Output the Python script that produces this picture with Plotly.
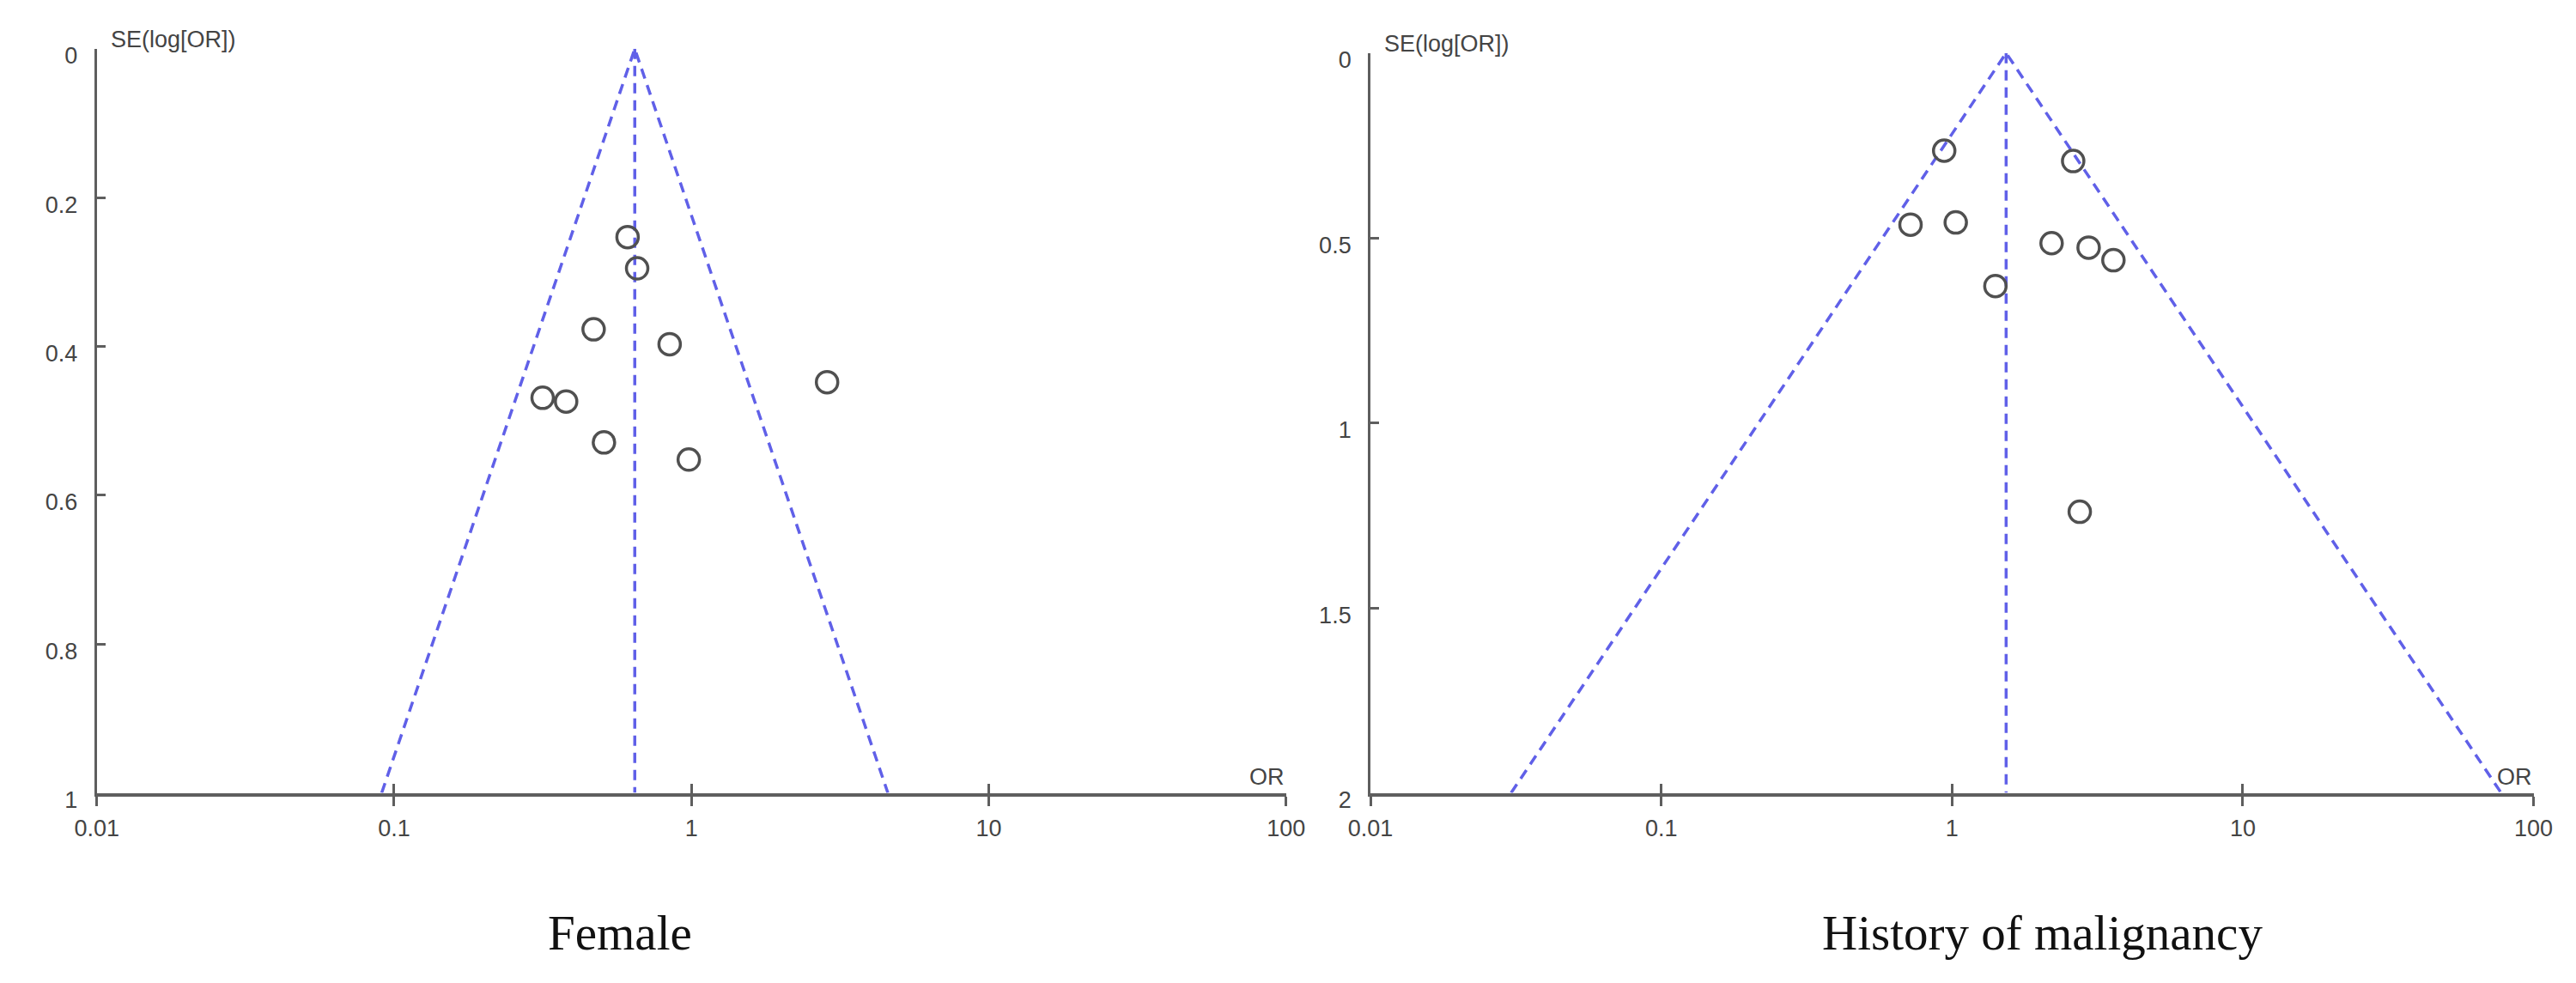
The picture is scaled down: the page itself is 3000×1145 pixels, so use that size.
import numpy as np
import plotly.graph_objects as go

# Female: odds ratio and SE(log[OR]) of each study
female_or = [0.61, 0.657, 0.469, 0.845, 2.86, 0.316, 0.379, 0.508, 0.98]
female_se = [0.253, 0.295, 0.377, 0.397, 0.448, 0.469, 0.474, 0.529, 0.552]
female_pooled_or = 0.645
female_se_max = 1.0
female_se_ticks = [0, 0.2, 0.4, 0.6, 0.8, 1]
female_se_labels = ["0", "0.2", "0.4", "0.6", "0.8", "1"]

# History of malignancy
malig_or = [0.94, 2.61, 0.72, 1.03, 2.2, 2.95, 3.59, 1.41, 2.75]
malig_se = [0.264, 0.292, 0.464, 0.458, 0.514, 0.526, 0.56, 0.63, 1.24]
malig_pooled_or = 1.535
malig_se_max = 2.0
malig_se_ticks = [0, 0.5, 1, 1.5, 2]
malig_se_labels = ["0", "0.5", "1", "1.5", "2"]

or_ticks = [0.01, 0.1, 1, 10, 100]
or_labels = ["0.01", "0.1", "1", "10", "100"]

AXIS_COLOR = "#5e5e5e"
FUNNEL_COLOR = "#6060e8"
TICK_FONT = dict(family="Liberation Sans, Arial", size=27, color="#444444")


def funnel_traces(pooled, se_max, xa, ya):
    """95% pseudo-confidence funnel plus the pooled estimate line."""
    z = 1.96
    se = np.array([se_max, 0.0, se_max])
    x_tri = pooled * np.exp(np.array([-z, 0.0, z]) * se)
    line = dict(color=FUNNEL_COLOR, width=3.5, dash="12px,8px")
    tri = go.Scatter(x=x_tri, y=se, mode="lines", line=line,
                     xaxis=xa, yaxis=ya, hoverinfo="skip")
    mid = go.Scatter(x=[pooled, pooled], y=[0, se_max], mode="lines", line=line,
                     xaxis=xa, yaxis=ya, hoverinfo="skip")
    return [tri, mid]


def study_points(or_vals, se_vals, xa, ya):
    return go.Scatter(x=or_vals, y=se_vals, mode="markers", xaxis=xa, yaxis=ya,
                      marker=dict(symbol="circle-open", size=25,
                                  line=dict(width=3.5, color="#505050"),
                                  color="#505050"))


def x_axis(domain, anchor, overlay=None):
    ax = dict(type="log", range=[-2, 2], domain=domain, anchor=anchor,
              tickvals=or_ticks, ticktext=or_labels, ticklen=11, tickwidth=3,
              tickcolor=AXIS_COLOR, showgrid=False, zeroline=False)
    if overlay is None:
        ax.update(ticks="outside", showline=True, linecolor=AXIS_COLOR, linewidth=4,
                  tickfont=TICK_FONT, ticklabelstandoff=3)
    else:
        # same axis again, only to draw the upper half of the crossing ticks
        ax.update(ticks="inside", overlaying=overlay, showline=False,
                  showticklabels=False)
    return ax


def y_axis(domain, anchor, se_max, ticks, labels):
    return dict(range=[se_max, 0], domain=domain, anchor=anchor,
                tickvals=ticks, ticktext=labels, ticks="inside", ticklen=10,
                tickwidth=3, tickcolor=AXIS_COLOR, showline=True,
                linecolor=AXIS_COLOR, linewidth=3, showgrid=False, zeroline=False,
                tickfont=TICK_FONT, ticklabelstandoff=14, ticklabelshift=-8)


def main():
    fig = go.Figure()

    for t in funnel_traces(female_pooled_or, female_se_max, "x", "y"):
        fig.add_trace(t)
    fig.add_trace(study_points(female_or, female_se, "x", "y"))
    for t in funnel_traces(malig_pooled_or, malig_se_max, "x2", "y2"):
        fig.add_trace(t)
    fig.add_trace(study_points(malig_or, malig_se, "x2", "y2"))
    # invisible traces so the overlay axes get drawn
    fig.add_trace(go.Scatter(x=[female_pooled_or], y=[0], xaxis="x3", yaxis="y",
                             mode="markers", opacity=0, hoverinfo="skip"))
    fig.add_trace(go.Scatter(x=[malig_pooled_or], y=[0], xaxis="x4", yaxis="y2",
                             mode="markers", opacity=0, hoverinfo="skip"))

    left_x = [80 / 3000, 1488 / 3000]
    right_x = [1588 / 3000, 2965 / 3000]
    bottom = 1 - 933 / 1145
    left_y = [bottom, 1 - 43 / 1145]
    right_y = [bottom, 1 - 48 / 1145]

    label_font = dict(family="Liberation Sans, Arial", size=27, color="#444444")
    ann = []
    for xr, yr in [("x", "y"), ("x2", "y2")]:
        ann.append(dict(text="SE(log[OR])", xref=xr + " domain", yref=yr + " domain",
                        x=0, y=1, xanchor="left", yanchor="middle", xshift=14,
                        yshift=11, showarrow=False, font=label_font))
        ann.append(dict(text="OR", xref=xr + " domain", yref=yr + " domain",
                        x=1, y=0, xanchor="right", yanchor="middle", yshift=19,
                        showarrow=False, font=label_font))
    title_font = dict(family="Liberation Serif, Times New Roman", size=57,
                      color="#111111")
    ann.append(dict(text="Female", xref="paper", yref="paper", x=699 / 3000,
                    y=1 - 1100 / 1145, xanchor="center", yanchor="middle",
                    showarrow=False, font=title_font))
    ann.append(dict(text="History of malignancy", xref="paper", yref="paper",
                    x=2383 / 3000, y=1 - 1100 / 1145, xanchor="center",
                    yanchor="middle", showarrow=False, font=title_font))

    fig.update_layout(
        width=3000, height=1145,
        margin=dict(l=0, r=0, t=0, b=0),
        paper_bgcolor="white", plot_bgcolor="white",
        showlegend=False,
        xaxis=x_axis(left_x, "y"),
        xaxis2=x_axis(right_x, "y2"),
        xaxis3=x_axis(left_x, "y", overlay="x"),
        xaxis4=x_axis(right_x, "y2", overlay="x2"),
        yaxis=y_axis(left_y, "x", female_se_max, female_se_ticks, female_se_labels),
        yaxis2=y_axis(right_y, "x2", malig_se_max, malig_se_ticks, malig_se_labels),
        annotations=ann,
    )

    fig.write_html("out.html")


if __name__ == "__main__":
    main()
